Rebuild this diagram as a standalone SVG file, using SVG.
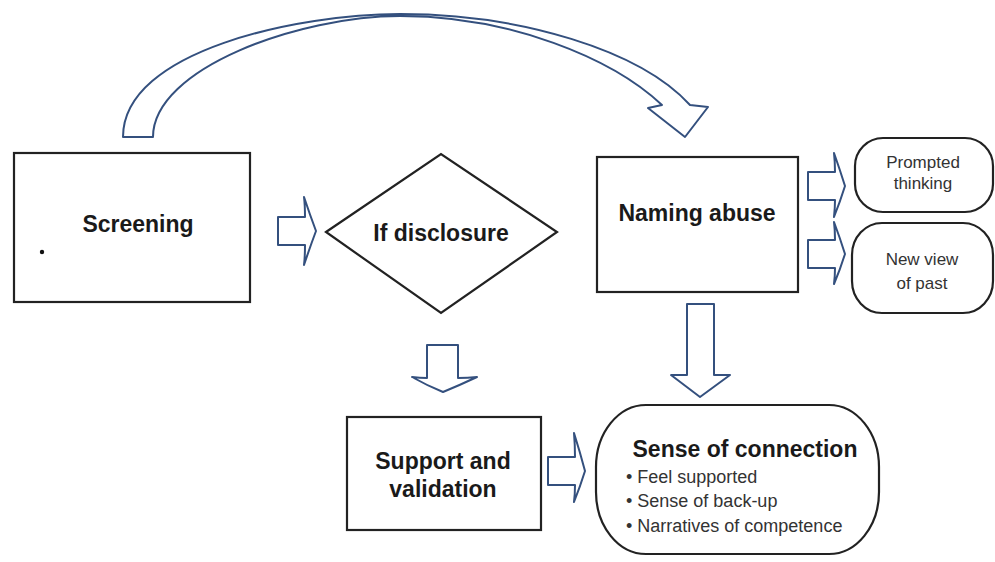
<svg xmlns="http://www.w3.org/2000/svg" width="995" height="562" viewBox="0 0 995 562">
<defs>
<style>
.box{fill:#fff;stroke:#222;stroke-width:2.2}
.blk{fill:#fff;stroke:#34507e;stroke-width:2;stroke-linejoin:round}
.t{font-family:"Liberation Sans",Arial,sans-serif;font-weight:bold;font-size:23px;fill:#1a1a1a;text-anchor:middle}
.s{font-family:"Liberation Sans",Arial,sans-serif;font-size:17px;fill:#333;text-anchor:middle}
.b{font-family:"Liberation Sans",Arial,sans-serif;font-size:18px;fill:#333}
</style>
</defs>
<rect width="995" height="562" fill="#fff"/>
<g id="connectors">
<path class="blk" d="M123 137 C123 50 300 14 400 14 C520 14 640 50 690 105 L708 107 L685 137 L648 108 L662 105 C612 58 510 16 400 16 C300 16 153 68 153 137 Z"/>
<path class="blk" d="M278 217 L305 217 Q305 205 304 197 Q310 215 316 231 Q310 247 304 265 Q305 257 305 245 L278 245 Z"/>
<path class="blk" d="M427 345 L458 345 L458 378 Q468 378 477 377 Q460 385 443 392 Q426 385 412 377 Q420 378 427 378 Z"/>
<path class="blk" d="M687 304 L714 304 L714 375 L730 375 L700 397 L671 375 L687 375 Z"/>
<path class="blk" d="M808 172 L835 172 Q835 162 834 153 Q840 170 845 186 Q840 202 834 217 Q835 208 835 200 L808 200 Z"/>
<path class="blk" d="M808 240 L835 240 Q835 230 834 222 Q840 238 845 254 Q840 270 834 284 Q835 276 835 268 L808 268 Z"/>
<path class="blk" d="M548 457 L575 457 Q575 445 574 433 Q580 452 585 471 Q580 487 574 502 Q575 494 575 485 L548 485 Z"/>
</g>
<g id="screening">
<rect class="box" x="14" y="153" width="236" height="149"/>
<circle cx="42" cy="252" r="2.2" fill="#111"/>
<text class="t" x="138" y="232">Screening</text>
</g>
<g id="if-disclosure">
<polygon class="box" points="326,232 441,154 557,232 441,313"/>
<text class="t" x="441" y="241">If disclosure</text>
</g>
<g id="naming-abuse">
<rect class="box" x="597" y="157" width="201" height="135"/>
<text class="t" x="697" y="221">Naming abuse</text>
</g>
<g id="prompted-thinking">
<rect class="box" x="855" y="138" width="138" height="74" rx="28" ry="28"/>
<text class="s" x="923" y="168">Prompted</text>
<text class="s" x="923" y="189">thinking</text>
</g>
<g id="new-view">
<rect class="box" x="852" y="223" width="141" height="90" rx="30" ry="32"/>
<text class="s" x="922" y="265">New view</text>
<text class="s" x="922" y="289">of past</text>
</g>
<g id="support-validation">
<rect class="box" x="347" y="417" width="194" height="113"/>
<text class="t" x="443" y="469">Support and</text>
<text class="t" x="443" y="497">validation</text>
</g>
<g id="sense-of-connection">
<rect class="box" x="596" y="405" width="283" height="149" rx="50" ry="62"/>
<text class="t" x="745" y="457">Sense of connection</text>
<text class="b" x="626" y="483">• Feel supported</text>
<text class="b" x="626" y="507">• Sense of back-up</text>
<text class="b" x="626" y="532">• Narratives of competence</text>
</g>
</svg>
